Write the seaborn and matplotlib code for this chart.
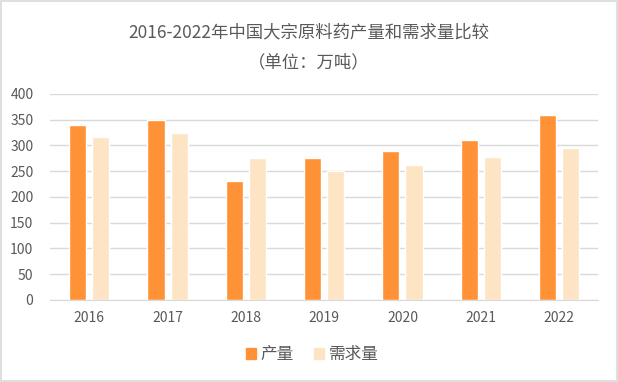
import pandas as pd
import numpy as np
import matplotlib
matplotlib.use("Agg")
import matplotlib.pyplot as plt
import seaborn as sns
from matplotlib.patches import Rectangle

years = ["2016", "2017", "2018", "2019", "2020", "2021", "2022"]
production = [340, 350, 230, 275, 290, 310, 360]
demand = [317, 324, 275, 250, 262, 277, 296]
series_names = ["产量", "需求量"]
colors = ["#FF9136", "#FDE4C5"]

sns.set_style("white")
plt.rcParams["font.family"] = ["Noto Sans CJK SC", "DejaVu Sans"]

df = pd.DataFrame({
    "年份": years * 2,
    "数值": production + demand,
    "系列": [series_names[0]] * len(years) + [series_names[1]] * len(years),
})

fig = plt.figure(figsize=(6.18, 3.82), dpi=100)
ax = fig.add_axes([0.081, 0.215, 0.887, 0.539])

sns.barplot(data=df, x="年份", y="数值", hue="系列", palette=colors,
            saturation=1, width=0.59, gap=0.26, ax=ax, legend=False)

text_color = "#595959"
ax.set_ylim(0, 400)
ax.set_yticks(np.arange(0, 401, 50))
ax.yaxis.grid(True, color="#D9D9D9", linewidth=1)
ax.set_axisbelow(True)
for s in ["top", "right", "left"]:
    ax.spines[s].set_visible(False)
ax.spines["bottom"].set_color("#D9D9D9")
ax.tick_params(axis="both", length=0, labelsize=10, colors=text_color, pad=8)
ax.tick_params(axis="y", pad=12)
ax.set_xlabel("")
ax.set_ylabel("")

fig.text(0.5, 0.916, "2016-2022年中国大宗原料药产量和需求量比较",
         ha="center", va="center", fontsize=12.5, color=text_color)
fig.text(0.5, 0.838, "（单位：万吨）",
         ha="center", va="center", fontsize=12.5, color=text_color)

handles = [Rectangle((0, 0), 1, 1, color=c) for c in colors]
fig.legend(handles, series_names, loc="center", bbox_to_anchor=(0.505, 0.071),
           ncol=2, frameon=False, fontsize=12, labelcolor=text_color,
           handlelength=0.6, handleheight=0.6, handletextpad=0.3, columnspacing=1.2)

fig.patches.append(Rectangle((0.002, 0.003), 0.996, 0.994, transform=fig.transFigure,
                             fill=False, edgecolor="#D9D9D9", linewidth=1.2))

fig.savefig("out.png", dpi=100)
